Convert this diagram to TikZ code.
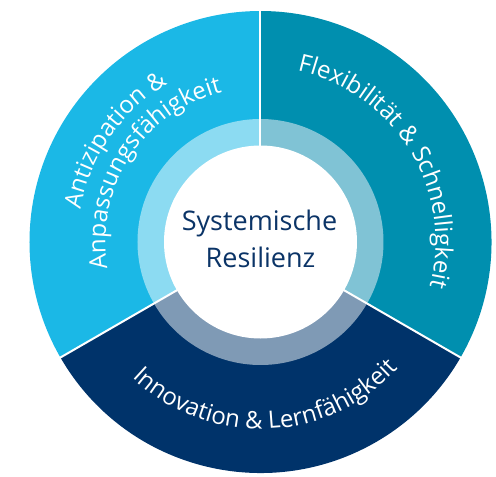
\documentclass[tikz,border=0pt]{standalone}
\usepackage{fontspec}
\setmainfont{Open Sans}
\usetikzlibrary{decorations.text}
\definecolor{cA}{HTML}{1BB8E6}
\definecolor{cAi}{HTML}{8CDBF2}
\definecolor{cF}{HTML}{008FAF}
\definecolor{cFi}{HTML}{80C3D5}
\definecolor{cI}{HTML}{00336A}
\definecolor{cIi}{HTML}{7F9AB5}
\definecolor{cT}{HTML}{0B3467}
\tikzset{
 curvedlabel/.style={decorate, decoration={text along path, text align=center, text color=white, text={|\fontsize{24}{28}\selectfont|#1}}},
 divider/.style={draw=white, line width=2pt},
 centertext/.style={text=cT, font=\fontsize{27}{33}\selectfont, anchor=base, inner sep=0pt}
}
\begin{document}
\begin{tikzpicture}[x=1pt,y=1pt]
\useasboundingbox (-260.5,-235) rectangle (235.5,242);
\coordinate (o) at (0,0);
% outer ring sectors
\fill[cA] (o) -- (90:231) arc[start angle=90,end angle=210,radius=231] -- cycle;
\fill[cF] (o) -- (-30:231) arc[start angle=-30,end angle=90,radius=231] -- cycle;
\fill[cI] (o) -- (210:231) arc[start angle=210,end angle=330,radius=231] -- cycle;
% inner ring sectors
\fill[cAi] (o) -- (90:123) arc[start angle=90,end angle=210,radius=123] -- cycle;
\fill[cFi] (o) -- (-30:123) arc[start angle=-30,end angle=90,radius=123] -- cycle;
\fill[cIi] (o) -- (210:123) arc[start angle=210,end angle=330,radius=123] -- cycle;
% dividers
\coordinate (d1) at (90:232);
\coordinate (d2) at (210:232);
\coordinate (d3) at (330:232);
\draw[divider] (o) -- (d1);
\draw[divider] (o) -- (d2);
\draw[divider] (o) -- (d3);
% centre
\fill[white] (o) circle[radius=96.5];
\node[centertext] (sys) at (-1,12) {Systemische};
\node[centertext] (res) at (0,-25) {Resilienz};
% curved labels
\path[curvedlabel={Antizipation {\&}}] (190:183) arc[start angle=190,end angle=100,radius=183];
\path[curvedlabel={Anpassungsfähigkeit}] (207:155) arc[start angle=207,end angle=87,radius=155];
\path[curvedlabel={Flexibilität {\&} Schnelligkeit}] (96:175) arc[start angle=96,end angle=-33,radius=175];
\path[curvedlabel={Innovation {\&} Lernfähigkeit}] (212:187) arc[start angle=212,end angle=332,radius=187];
\end{tikzpicture}
\end{document}
